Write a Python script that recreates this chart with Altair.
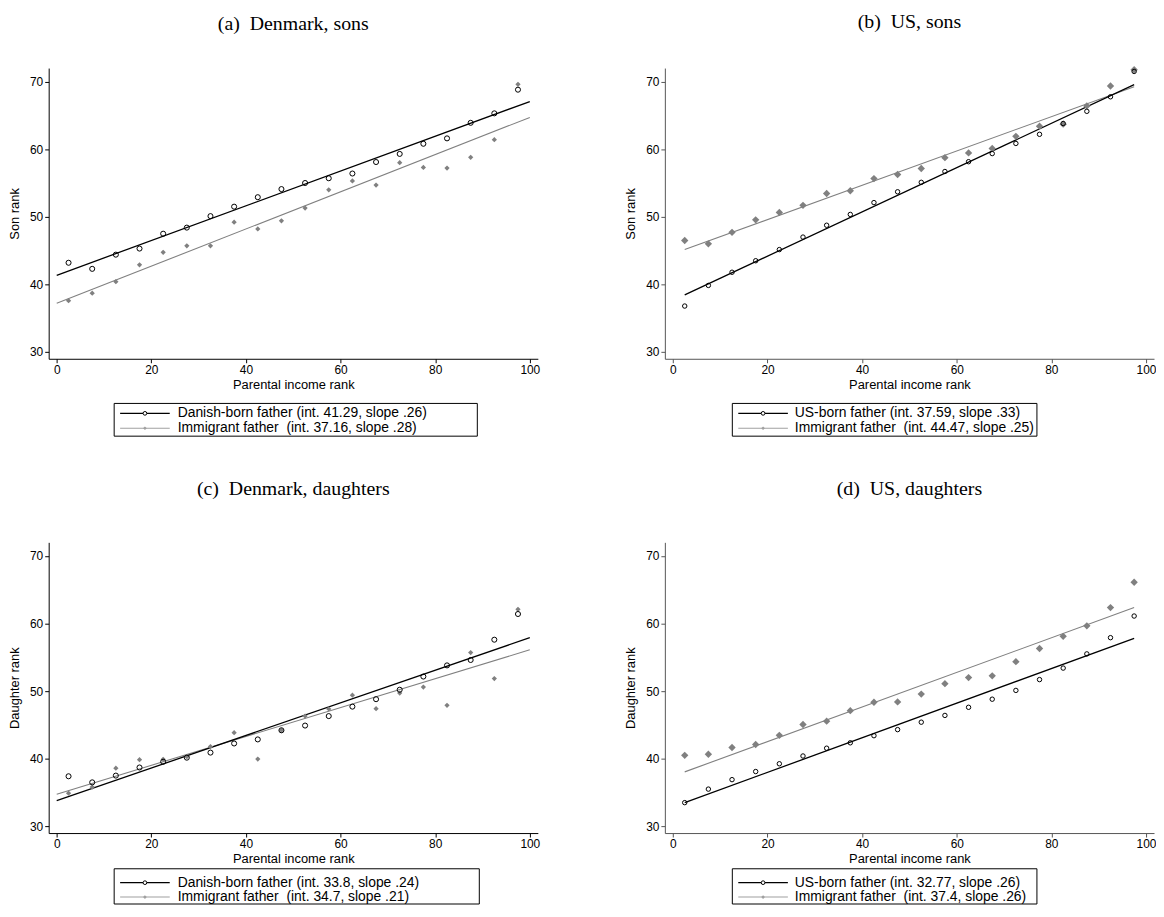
import altair as alt
import pandas as pd

# ---------------- data ----------------
x_bins = [2.5, 7.5, 12.5, 17.5, 22.5, 27.5, 32.5, 37.5, 42.5, 47.5,
          52.5, 57.5, 62.5, 67.5, 72.5, 77.5, 82.5, 87.5, 92.5, 97.5]

dk_sons_native = [43.2, 42.3, 44.4, 45.3, 47.5, 48.4, 50.1, 51.5, 52.9, 54.1,
                  55.0, 55.7, 56.4, 58.1, 59.3, 60.8, 61.6, 63.9, 65.3, 68.8]
dk_sons_immig = [37.6, 38.7, 40.4, 42.9, 44.75, 45.7, 45.7, 49.2, 48.2, 49.4,
                 51.3, 54.0, 55.3, 54.7, 58.0, 57.3, 57.2, 58.8, 61.4, 69.6]
us_sons_native = [36.8, 39.85, 41.8, 43.5, 45.15, 47.0, 48.75, 50.35, 52.1, 53.7,
                  55.1, 56.7, 58.15, 59.35, 60.85, 62.2, 63.8, 65.6, 67.75, 71.5]
us_sons_immig = [46.5, 46.0, 47.7, 49.55, 50.65, 51.7, 53.45, 53.85, 55.65, 56.25,
                 57.15, 58.75, 59.45, 60.1, 61.9, 63.4, 63.7, 66.4, 69.35, 71.75]
dk_daug_native = [37.4, 36.5, 37.5, 38.7, 39.55, 40.15, 40.9, 42.25, 42.85, 44.2,
                  44.9, 46.3, 47.7, 48.8, 50.2, 52.15, 53.8, 54.6, 57.6, 61.4]
dk_daug_immig = [34.9, 35.8, 38.6, 39.85, 39.9, 40.3, 41.8, 43.85, 39.95, 44.2,
                 46.3, 47.35, 49.4, 47.4, 49.7, 50.6, 47.9, 55.7, 51.85, 62.1]
us_daug_native = [33.5, 35.5, 36.9, 38.1, 39.25, 40.4, 41.55, 42.35, 43.4, 44.3,
                  45.4, 46.4, 47.6, 48.8, 50.1, 51.7, 53.4, 55.5, 57.9, 61.1]
us_daug_immig = [40.5, 40.65, 41.65, 42.1, 43.45, 45.05, 45.55, 47.1, 48.35, 48.4,
                 49.55, 51.1, 52.0, 52.25, 54.35, 56.3, 58.1, 59.65, 62.35, 66.1]

# fitted lines: endpoints
fit_x_dk = [0, 100]
fit_x_us = [2.5, 97.5]
fit_dk_sons_native = [41.35, 67.05]
fit_dk_sons_immig = [37.2, 64.7]
fit_us_sons_native = [38.45, 69.55]
fit_us_sons_immig = [45.15, 69.25]
fit_dk_daug_native = [33.8, 57.9]
fit_dk_daug_immig = [34.75, 56.1]
fit_us_daug_native = [33.5, 57.8]
fit_us_daug_immig = [38.05, 62.35]

titles = ["(a)\u2002Denmark, sons", "(b)\u2002US, sons",
          "(c)\u2002Denmark, daughters", "(d)\u2002US, daughters"]
y_titles = ["Son rank", "Son rank", "Daughter rank", "Daughter rank"]
x_title = "Parental income rank"
legend_a = ["Danish-born father (int. 41.29, slope .26)", "Immigrant father\u00a0 (int. 37.16, slope .28)"]
legend_b = ["US-born father (int. 37.59, slope .33)", "Immigrant father\u00a0 (int. 44.47, slope .25)"]
legend_c = ["Danish-born father (int. 33.8, slope .24)", "Immigrant father\u00a0 (int. 34.7, slope .21)"]
legend_d = ["US-born father (int. 32.77, slope .26)", "Immigrant father\u00a0 (int. 37.4, slope .26)"]

x_ticks = [0, 20, 40, 60, 80, 100]
y_ticks = [30, 40, 50, 60, 70]

# ---------------- styling ----------------
W, H = 493, 293
BLACK = "#000000"
GRAY = "#808080"
LEG_GRAY = "#a0a0a0"
SANS = "Liberation Sans"
SERIF = "Liberation Serif"


def panel(title, ytitle, native, immig, fit_x, fit_n, fit_i, labels,
          axis_color, circ_size, dia_size, title_offset, lg):
    pts = pd.DataFrame({
        "x": x_bins + x_bins,
        "y": native + immig,
        "g": ["native"] * len(x_bins) + ["immig"] * len(x_bins),
    })
    fits = pd.DataFrame({
        "x": fit_x + fit_x,
        "y": fit_n + fit_i,
        "g": ["native"] * 2 + ["immig"] * 2,
    })
    xenc = alt.X("x:Q", scale=alt.Scale(domain=[-1.7, 101.7], nice=False, zero=False),
                 axis=alt.Axis(values=x_ticks, title=x_title, domainColor=axis_color,
                               tickColor=axis_color))
    yenc = alt.Y("y:Q", scale=alt.Scale(domain=[29, 72], nice=False, zero=False),
                 axis=alt.Axis(values=y_ticks, title=ytitle, domainColor=axis_color,
                               tickColor=axis_color))

    line_n = alt.Chart(fits).transform_filter("datum.g == 'native'").mark_line(
        color=BLACK, strokeWidth=1.3).encode(x=xenc, y=yenc)
    line_i = alt.Chart(fits).transform_filter("datum.g == 'immig'").mark_line(
        color=GRAY, strokeWidth=1.1).encode(x=xenc, y=yenc)
    pt_i = alt.Chart(pts).transform_filter("datum.g == 'immig'").mark_point(
        shape="diamond", filled=True, color=GRAY, size=dia_size, opacity=1).encode(x=xenc, y=yenc)
    pt_n = alt.Chart(pts).transform_filter("datum.g == 'native'").mark_point(
        shape="circle", filled=False, color=BLACK, size=circ_size, strokeWidth=1,
        opacity=1).encode(x=xenc, y=yenc)

    # legend box under the axis title
    bx0, bx1, by0, by1, rows, sx0, sx1, tx = lg
    box = alt.Chart(pd.DataFrame({"label": [labels[0]]})).mark_rect(
        fill="white", stroke=BLACK, strokeWidth=1).encode(
        x=alt.value(bx0), x2=alt.value(bx1), y=alt.value(by0), y2=alt.value(by1))
    leg_layers = [box]
    styles = [(BLACK, "circle", False, 14, 1.3), (LEG_GRAY, "diamond", True, 14, 1.1)]
    for lab, ry, (col, shp, fil, sz, sw) in zip(labels, rows, styles):
        d = pd.DataFrame({"label": [lab]})
        leg_layers.append(alt.Chart(d).mark_rule(color=col, strokeWidth=sw).encode(
            x=alt.value(sx0), x2=alt.value(sx1), y=alt.value(ry)))
        leg_layers.append(alt.Chart(d).mark_point(
            shape=shp, filled=fil, color=col, size=sz, opacity=1, strokeWidth=1,
            fill=(col if fil else "white")).encode(
            x=alt.value((sx0 + sx1) / 2), y=alt.value(ry)))
        leg_layers.append(alt.Chart(d).mark_text(
            align="left", baseline="middle", font=SANS, fontSize=14, color=BLACK).encode(
            x=alt.value(tx), y=alt.value(ry), text="label:N"))

    return alt.layer(line_i, line_n, pt_i, pt_n, *leg_layers).properties(
        width=W, height=H,
        title=alt.TitleParams(title, font=SERIF, fontSize=20, fontWeight="normal",
                              anchor="middle", frame="group", offset=title_offset,
                              color=BLACK),
    )


lg_top_dk = (66, 432, H + 45, H + 78, [H + 55, H + 70], 72, 122, 130)
lg_top_us = (68, 375, H + 45, H + 78, [H + 55, H + 70], 74, 124, 131)
lg_bot_dk = (66, 434, H + 36, H + 71.5, [H + 50, H + 64.5], 72, 122, 130)
lg_bot_us = (68, 375, H + 36, H + 71.5, [H + 50, H + 64.5], 74, 124, 131)

pa = panel(titles[0], y_titles[0], dk_sons_native, dk_sons_immig, fit_x_dk,
           fit_dk_sons_native, fit_dk_sons_immig, legend_a, BLACK, 26, 28, 34, lg_top_dk)
pb = panel(titles[1], y_titles[1], us_sons_native, us_sons_immig, fit_x_us,
           fit_us_sons_native, fit_us_sons_immig, legend_b, "#555555", 20, 55, 34, lg_top_us)
pc = panel(titles[2], y_titles[2], dk_daug_native, dk_daug_immig, fit_x_dk,
           fit_dk_daug_native, fit_dk_daug_immig, legend_c, BLACK, 26, 28, 44, lg_bot_dk)
pdd = panel(titles[3], y_titles[3], us_daug_native, us_daug_immig, fit_x_us,
            fit_us_daug_native, fit_us_daug_immig, legend_d, "#555555", 20, 55, 44, lg_bot_us)

chart = alt.vconcat(
    alt.hconcat(pa, pb, spacing=85),
    alt.hconcat(pc, pdd, spacing=85),
    spacing=42,
).properties(
    padding={"left": 0, "top": 0, "right": 0, "bottom": 0}
).configure_view(
    stroke=None
).configure_axis(
    grid=False,
    labelFont=SANS, labelFontSize=12, labelColor=BLACK,
    titleFont=SANS, titleFontSize=13, titleFontWeight="normal", titleColor=BLACK,
    tickSize=4, tickWidth=1, domainWidth=1, labelPadding=2,
).configure_axisX(
    titlePadding=3,
).configure_axisY(
    titlePadding=8,
)

chart.save("out.html", embed_options={"renderer": "svg", "actions": False})
